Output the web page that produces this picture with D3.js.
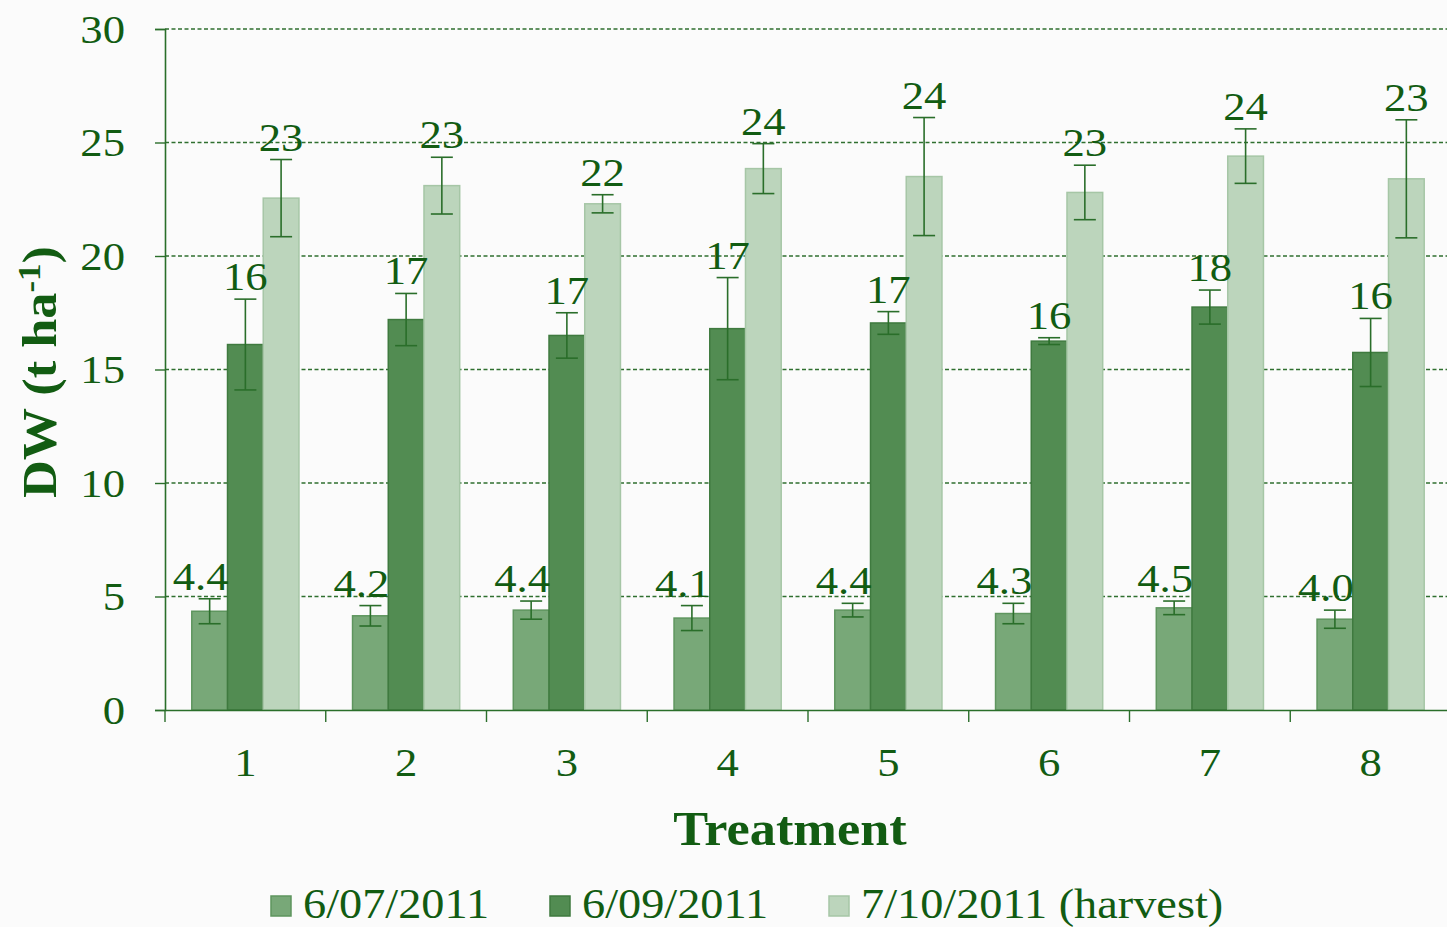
<!DOCTYPE html>
<html>
<head>
<meta charset="utf-8">
<script src="https://cdn.jsdelivr.net/npm/d3@7"></script>
<style>
  html, body { margin: 0; padding: 0; background: #fbfbfb; }
  svg { display: block; }
  text { font-family: "Liberation Serif", "Times New Roman", serif; fill: #125c12; }
</style>
</head>
<body>
<svg id="chart" width="1447" height="927"></svg>
<script>
// ---- data ----
const categories = ["1", "2", "3", "4", "5", "6", "7", "8"];
const seriesNames = ["6/07/2011", "6/09/2011", "7/10/2011 (harvest)"];
const jul6 = [4.35, 4.15, 4.4, 4.05, 4.4, 4.25, 4.5, 4.0];
const sep6 = [16.1, 17.2, 16.5, 16.8, 17.05, 16.25, 17.75, 15.75];
const oct7 = [22.55, 23.1, 22.3, 23.85, 23.5, 22.8, 24.4, 23.4];
const jul6Err = [0.55, 0.45, 0.4, 0.55, 0.3, 0.45, 0.3, 0.4];
const sep6Err = [2.0, 1.15, 1.0, 2.25, 0.5, 0.15, 0.75, 1.5];
const oct7Err = [1.7, 1.25, 0.4, 1.1, 2.6, 1.2, 1.2, 2.6];
const jul6Labels = ["4.4", "4.2", "4.4", "4.1", "4.4", "4.3", "4.5", "4.0"];
const sep6Labels = ["16", "17", "17", "17", "17", "16", "18", "16"];
const oct7Labels = ["23", "23", "22", "24", "24", "23", "24", "23"];
const yTicks = [0, 5, 10, 15, 20, 25, 30];

const seriesValues = [jul6, sep6, oct7];
const seriesErrors = [jul6Err, sep6Err, oct7Err];
const seriesLabels = [jul6Labels, sep6Labels, oct7Labels];
const fills = ["#78a878", "#528c52", "#bcd5bc"];
const strokes = ["#5e955e", "#3f7a3f", "#a6c6a6"];
const dark = "#2a6e2a";
const textStretch = 1.09;

const svg = d3.select("#chart");
const pLeft = 165, pRight = 1451, pTop = 29, pBottom = 710;

const x = d3.scaleBand().domain(categories).range([pLeft, pRight]).paddingInner(1/3).paddingOuter(1/6);
const x1 = d3.scaleBand().domain(d3.range(seriesNames.length)).range([0, x.bandwidth()]);
const y = d3.scaleLinear().domain([0, 30]).range([pBottom, pTop]);

// gridlines
svg.append("g").selectAll("line").data(yTicks.filter(d => d > 0)).join("line")
  .attr("x1", pLeft).attr("x2", pRight)
  .attr("y1", d => y(d)).attr("y2", d => y(d))
  .attr("stroke", "#2f6f2f").attr("stroke-width", 1.4).attr("stroke-dasharray", "4,2.5");

// bars
const groups = svg.append("g").selectAll("g").data(categories).join("g")
  .attr("transform", d => `translate(${x(d)},0)`);

seriesNames.forEach((s, si) => {
  groups.append("rect")
    .attr("x", x1(si))
    .attr("width", x1.bandwidth())
    .attr("y", (d, i) => y(seriesValues[si][i]))
    .attr("height", (d, i) => pBottom - y(seriesValues[si][i]))
    .attr("fill", fills[si])
    .attr("stroke", strokes[si]).attr("stroke-width", 1.5);
});

// error bars and labels
seriesNames.forEach((s, si) => {
  const cx = x1(si) + x1.bandwidth() / 2;
  const cap = 11;
  groups.append("line")
    .attr("x1", cx).attr("x2", cx)
    .attr("y1", (d, i) => y(seriesValues[si][i] + seriesErrors[si][i]))
    .attr("y2", (d, i) => y(seriesValues[si][i] - seriesErrors[si][i]))
    .attr("stroke", dark).attr("stroke-width", 1.6);
  groups.append("line")
    .attr("x1", cx - cap).attr("x2", cx + cap)
    .attr("y1", (d, i) => y(seriesValues[si][i] + seriesErrors[si][i]))
    .attr("y2", (d, i) => y(seriesValues[si][i] + seriesErrors[si][i]))
    .attr("stroke", dark).attr("stroke-width", 1.6);
  groups.append("line")
    .attr("x1", cx - cap).attr("x2", cx + cap)
    .attr("y1", (d, i) => y(seriesValues[si][i] - seriesErrors[si][i]))
    .attr("y2", (d, i) => y(seriesValues[si][i] - seriesErrors[si][i]))
    .attr("stroke", dark).attr("stroke-width", 1.6);
  groups.append("text")
    .attr("x", cx + (si === 0 ? -9 : 0))
    .attr("y", (d, i) => y(seriesValues[si][i] + seriesErrors[si][i]) - 9)
    .attr("text-anchor", "middle")
    .attr("font-size", 41)
    .text((d, i) => seriesLabels[si][i]);
});

// y axis
const yAxis = svg.append("g").attr("transform", `translate(${pLeft},0)`)
  .call(d3.axisLeft(y).tickValues(yTicks).tickSize(10).tickPadding(30));
yAxis.select(".domain").attr("stroke", dark).attr("stroke-width", 1.6);
yAxis.selectAll(".tick line").attr("stroke", dark).attr("stroke-width", 1.4);
yAxis.selectAll(".tick text").attr("font-size", 41).attr("fill", "#125c12")
  .attr("font-family", "Liberation Serif").attr("dy", "0.32em");

// x axis
const xAxis = svg.append("g").attr("transform", `translate(0,${pBottom})`)
  .call(d3.axisBottom(x).tickSize(0).tickPadding(62));
xAxis.select(".domain").attr("stroke", dark).attr("stroke-width", 1.6);
xAxis.selectAll(".tick text").attr("font-size", 41).attr("fill", "#125c12")
  .attr("font-family", "Liberation Serif").attr("dy", "0.1em");
// tick marks between categories
const boundaries = categories.map(c => x(c) - x.step() * x.paddingInner() / 2);
xAxis.append("g").selectAll("line").data(boundaries).join("line")
  .attr("x1", d => d).attr("x2", d => d).attr("y1", 0).attr("y2", 12)
  .attr("stroke", dark).attr("stroke-width", 1.4);

// axis titles
svg.append("text")
  .attr("x", 790).attr("y", 845)
  .attr("text-anchor", "middle").attr("font-size", 48).attr("font-weight", "bold")
  .text("Treatment");

const yt = svg.append("text")
  .attr("transform", "translate(56,372) rotate(-90)")
  .attr("text-anchor", "middle").attr("font-size", 48).attr("font-weight", "bold");
yt.append("tspan").text("DW (t ha");
yt.append("tspan").attr("font-size", 32).attr("dy", -16).text("-1");
yt.append("tspan").attr("dy", 16).text(")");

// legend
const legendX = [270, 549, 828];
const legend = svg.append("g").selectAll("g").data(seriesNames).join("g")
  .attr("transform", (d, i) => `translate(${legendX[i]},0)`);
legend.append("rect").attr("x", 1).attr("y", 896).attr("width", 20).attr("height", 20)
  .attr("fill", (d, i) => fills[i]).attr("stroke", (d, i) => strokes[i]).attr("stroke-width", 1.5);
legend.append("text").attr("x", 33).attr("y", 918).attr("font-size", 42.5).text(d => d);

// horizontal stretch of all texts around their anchor x (the reference glyphs are wider)
svg.selectAll("text").each(function () {
  const t = d3.select(this);
  const ax = +(t.attr("x") || 0);
  const prev = t.attr("transform") || "";
  t.attr("transform", `${prev} translate(${ax * (1 - textStretch)},0) scale(${textStretch},1)`);
});
</script>
</body>
</html>
